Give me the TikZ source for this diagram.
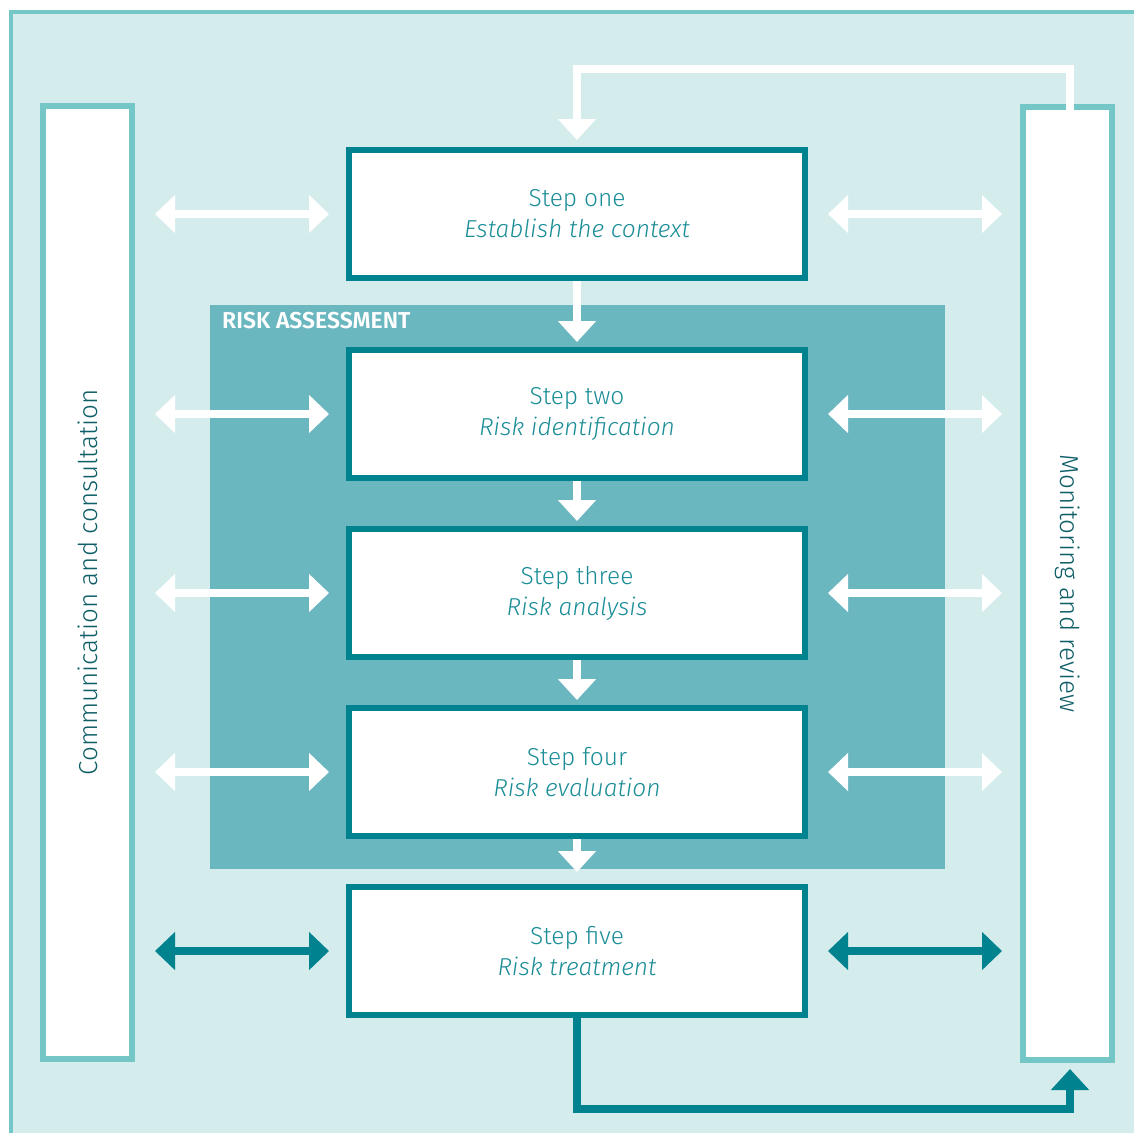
\documentclass[tikz,border=0pt]{standalone}
\usepackage{fontspec}
\setmainfont{Fira Sans}[UprightFont={* Light},ItalicFont={* Light Italic},BoldFont={* SemiBold}]
\usepackage{tikz}
\usetikzlibrary{arrows.meta}
\definecolor{bgteal}{HTML}{D4ECEC}
\definecolor{rimteal}{HTML}{75C6C6}
\definecolor{midteal}{HTML}{6BB7BF}
\definecolor{darkteal}{HTML}{00838F}
\definecolor{textteal}{HTML}{1A8D97}
\definecolor{sidetext}{HTML}{0E5E67}

\begin{document}
\begin{tikzpicture}[x=1pt,y=-1pt,
  stepbox/.style={draw=darkteal,line width=6pt,fill=white,minimum width=456pt,minimum height=128pt,
    align=center,text=textteal,font=\fontsize{24.5}{31}\selectfont},
  sidebar/.style={draw=rimteal,line width=6pt,fill=white,minimum width=89pt,minimum height=953pt},
  sidelabel/.style={text=sidetext,font=\fontsize{26}{30}\selectfont},
  flow/.style={line width=8pt,-{Triangle[width=37pt,length=21pt]}},
  both/.style={line width=8pt,{Triangle[width=37pt,length=20pt]}-{Triangle[width=37pt,length=20pt]}}]
\useasboundingbox (0,0) rectangle (1134,1133);
% Background
\fill[bgteal] (9,10) rectangle (1134,1133);
\draw[rimteal,line width=4pt] (11,1133) -- (11,12) -- (1134,12);
% Risk assessment panel
\fill[midteal] (210,305) rectangle (945,869);
\node[anchor=base west,inner sep=0pt,text=white,font=\fontsize{23}{26}\selectfont\bfseries] (ra) at (222,328) {RISK ASSESSMENT};
% Side bars
\node[sidebar] (comm) at (87.5,582.5) {};
\node[sidelabel,rotate=90] (commtext) at (comm) {Communication and consultation};
\node[sidebar] (mon) at (1067.5,583.5) {};
\node[sidelabel,rotate=-90] (montext) at (mon) {Monitoring and review};
% Steps
\node[stepbox] (one) at (577,214) {Step one\\\textit{Establish the context}};
\node[stepbox] (two) at (577,414) {Step two\\\textit{Risk identification}};
\node[stepbox] (three) at (577,593) {Step three\\\textit{Risk analysis}};
\node[stepbox] (four) at (577,772) {Step four\\\textit{Risk evaluation}};
\node[stepbox] (five) at (577,951) {Step five\\\textit{Risk treatment}};
% Flow down
\draw[flow,white,shorten >=5pt] (one) -- (two);
\draw[flow,white,shorten >=5pt] (two) -- (three);
\draw[flow,white,shorten >=5pt] (three) -- (four);
\draw[flow,white,shorten >=12pt] (four) -- (five);
% Loops
\draw[flow,white,shorten >=7pt] ([xshift=2.5pt,yshift=-7pt]mon.north) -- ++(0,-42) -| (one.north);
\draw[flow,darkteal,shorten >=6pt] (five.south) -- ++(0,91) -| ([xshift=2.5pt]mon.south);
% Side arrows
\foreach \s in {one,two,three,four}{
  \draw[both,white,shorten <=20pt,shorten >=17pt] (comm.east |- \s) -- (\s.west);
  \draw[both,white,shorten <=20pt,shorten >=18pt] (\s.east) -- (mon.west |- \s);
}
\draw[both,darkteal,shorten <=20pt,shorten >=17pt] (comm.east |- five) -- (five.west);
\draw[both,darkteal,shorten <=20pt,shorten >=18pt] (five.east) -- (mon.west |- five);
\end{tikzpicture}
\end{document}
